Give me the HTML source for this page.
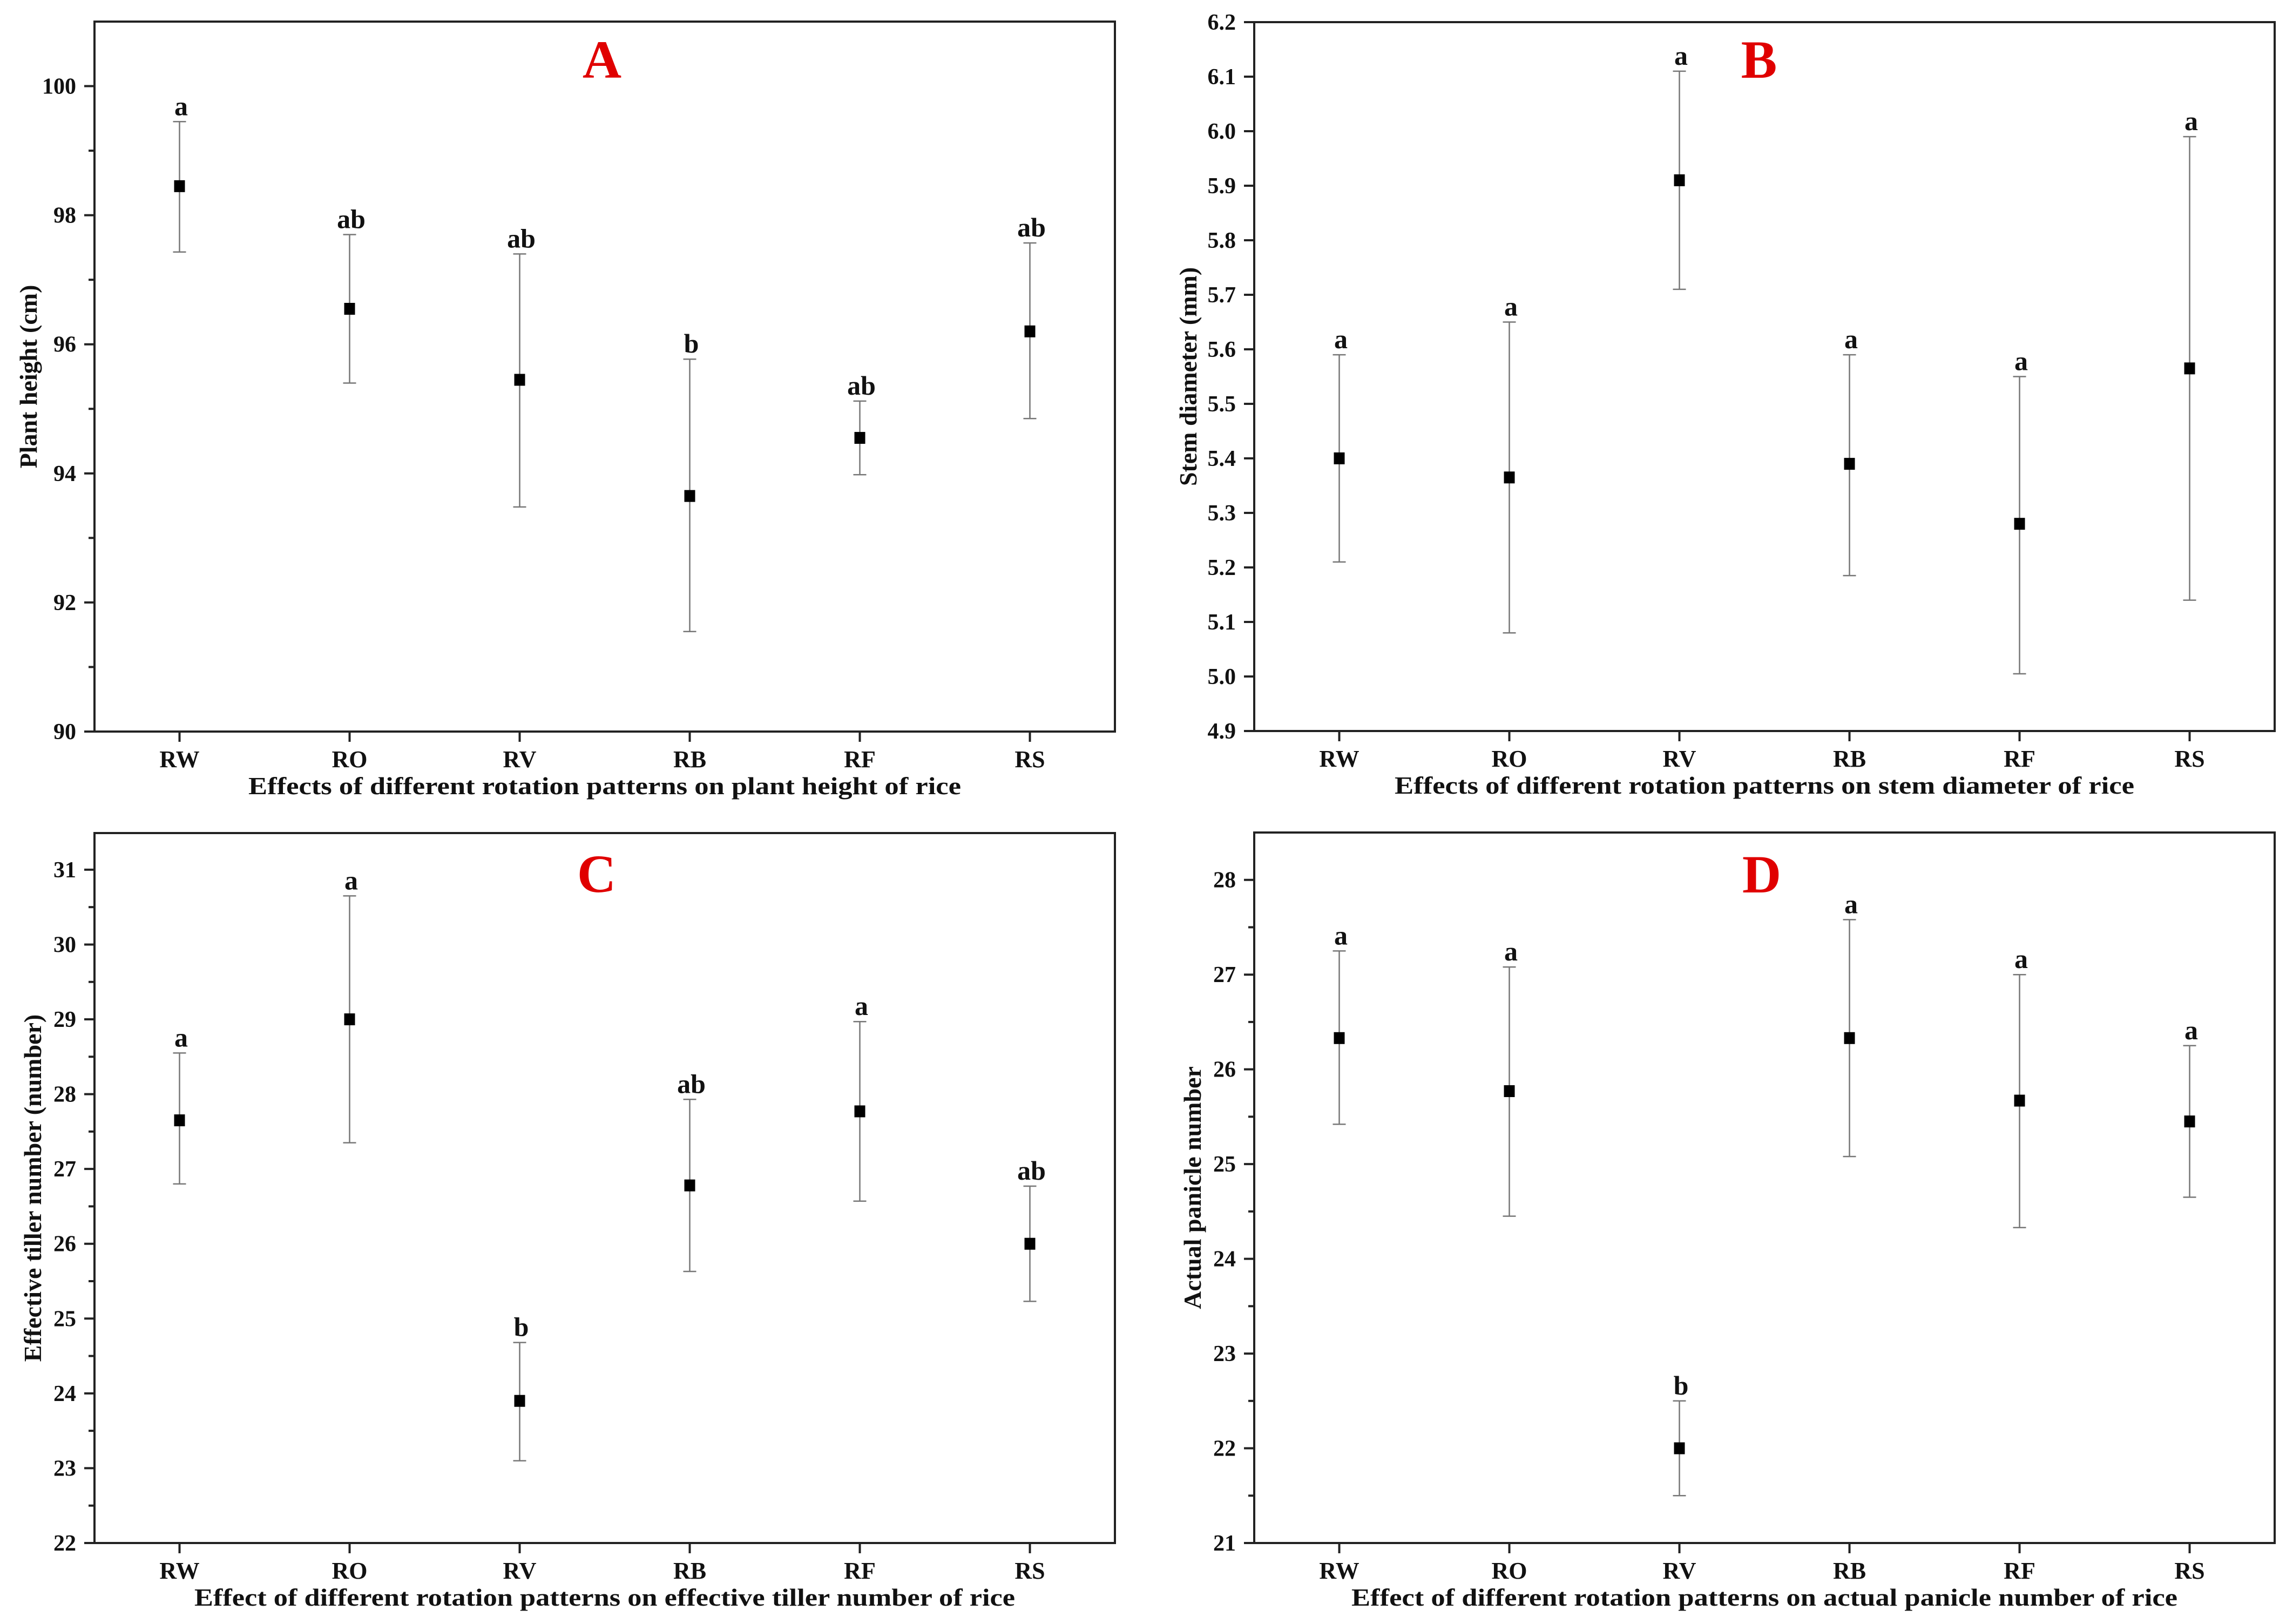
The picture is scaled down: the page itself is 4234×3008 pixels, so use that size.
<!DOCTYPE html>
<html><head><meta charset="utf-8">
<style>
html,body{margin:0;padding:0;background:#fff;}
svg{display:block;}
text{font-family:"Liberation Serif",serif;font-weight:bold;fill:#111;}
</style></head>
<body>
<svg id="fig" width="4234" height="3008" viewBox="0 0 4234 3008" xmlns="http://www.w3.org/2000/svg"></svg>
<script>
const categories = ["RW","RO","RV","RB","RF","RS"];
// Panel A: plant height
const meanA = [98.45, 96.55, 95.45, 93.65, 94.55, 96.2];
const lowA  = [97.43, 95.4, 93.48, 91.55, 93.98, 94.85];
const highA = [99.45, 97.7, 97.4, 95.77, 95.12, 97.57];
const letA  = ["a","ab","ab","b","ab","ab"];
const ticksA = [90,92,94,96,98,100];
// Panel B: stem diameter
const meanB = [5.40, 5.365, 5.91, 5.39, 5.28, 5.565];
const lowB  = [5.21, 5.08, 5.71, 5.185, 5.005, 5.14];
const highB = [5.59, 5.65, 6.11, 5.59, 5.55, 5.99];
const letB  = ["a","a","a","a","a","a"];
const ticksB = ["4.9","5.0","5.1","5.2","5.3","5.4","5.5","5.6","5.7","5.8","5.9","6.0","6.1","6.2"];
// Panel C: effective tiller number
const meanC = [27.65, 29.0, 23.9, 26.78, 27.77, 26.0];
const lowC  = [26.8, 27.35, 23.1, 25.63, 26.57, 25.23];
const highC = [28.55, 30.65, 24.68, 27.93, 28.97, 26.77];
const letC  = ["a","a","b","ab","a","ab"];
const ticksC = [22,23,24,25,26,27,28,29,30,31];
// Panel D: actual panicle number
const meanD = [26.33, 25.77, 22.0, 26.33, 25.67, 25.45];
const lowD  = [25.42, 24.45, 21.5, 25.08, 24.33, 24.65];
const highD = [27.25, 27.08, 22.5, 27.58, 27.0, 26.25];
const letD  = ["a","a","b","a","a","a"];
const ticksD = [21,22,23,24,25,26,27,28];

const NS="http://www.w3.org/2000/svg";
const svg=document.getElementById('fig');
function el(tag,attrs,parent){const e=document.createElementNS(NS,tag);for(const k in attrs)e.setAttribute(k,attrs[k]);(parent||svg).appendChild(e);return e;}

const panels=[
 {id:"a",L:175,R:2065,T:40,B:1355,ymin:90,ymax:101,mean:meanA,low:lowA,high:highA,let:letA,ticks:ticksA,minor:1,
  letter:"A",lx:1115,ly:144,ytitle:"Plant height (cm)",ytx:52,xtitle:"Effects of different rotation patterns on plant height of rice",xtw:1320},
 {id:"b",L:2323,R:4213,T:41,B:1354,ymin:4.9,ymax:6.2,mean:meanB,low:lowB,high:highB,let:letB,ticks:ticksB,minor:0,
  letter:"B",lx:3258,ly:144,ytitle:"Stem diameter (mm)",ytx:2200,xtitle:"Effects of different rotation patterns on stem diameter of rice",xtw:1370},
 {id:"c",L:175,R:2065,T:1543,B:2858,ymin:22,ymax:31.49,mean:meanC,low:lowC,high:highC,let:letC,ticks:ticksC,minor:0.5,
  letter:"C",lx:1105,ly:1652,ytitle:"Effective tiller number (number)",ytx:60,xtitle:"Effect of different rotation patterns on effective tiller number of rice",xtw:1520},
 {id:"d",L:2323,R:4213,T:1542,B:2858,ymin:21,ymax:28.5,mean:meanD,low:lowD,high:highD,let:letD,ticks:ticksD,minor:0.5,
  letter:"D",lx:3263,ly:1653,ytitle:"Actual panicle number",ytx:2208,xtitle:"Effect of different rotation patterns on actual panicle number of rice",xtw:1530}
];

panels.forEach(p=>{
  const g=el('g',{});
  
  
  const x=i=>p.L+(i+0.5)*(p.R-p.L)/categories.length;
  const y=v=>p.B-(v-p.ymin)/(p.ymax-p.ymin)*(p.B-p.T);
  const fr=el('rect',{x:p.L,y:p.T,width:p.R-p.L,height:p.B-p.T,fill:'none',stroke:'#222','stroke-width':4},g);
  
  
  // y ticks
  p.ticks.forEach(t=>{
    const v=parseFloat(t);
    el('line',{x1:p.L-19,x2:p.L,y1:y(v),y2:y(v),stroke:'#222','stroke-width':4},g);
    const tl=el('text',{x:p.L-34,y:y(v)+14,'text-anchor':'end','font-size':42},g);
    tl.textContent=t;
    
    
  });
  if(p.minor){
    for(let v=p.ymin+p.minor; v<p.ymax; v+=p.minor*2){
      el('line',{x1:p.L-11,x2:p.L,y1:y(v),y2:y(v),stroke:'#222','stroke-width':4},g);
    }
  }
  // x ticks
  categories.forEach((c,i)=>{
    el('line',{x1:x(i),x2:x(i),y1:p.B,y2:p.B+19,stroke:'#222','stroke-width':4},g);
    const tl=el('text',{x:x(i),y:p.B+66,'text-anchor':'middle','font-size':44},g);
    tl.textContent=c;
    
    
  });
  // error bars + markers + letters
  categories.forEach((c,i)=>{
    const eb=el('g',{},g);
    
    
    el('line',{x1:x(i),x2:x(i),y1:y(p.high[i]),y2:y(p.low[i]),stroke:'#777','stroke-width':2.5},eb);
    el('line',{x1:x(i)-12,x2:x(i)+12,y1:y(p.high[i]),y2:y(p.high[i]),stroke:'#777','stroke-width':2.5},eb);
    el('line',{x1:x(i)-12,x2:x(i)+12,y1:y(p.low[i]),y2:y(p.low[i]),stroke:'#777','stroke-width':2.5},eb);
    const m=el('rect',{x:x(i)-10,y:y(p.mean[i])-11,width:20,height:22,fill:'#000'},g);
    
    
    const lt=el('text',{x:x(i)+3,y:y(p.high[i])-12,'text-anchor':'middle','font-size':50},g);
    lt.textContent=p.let[i];
    
    
  });
  const pl=el('text',{x:p.lx,y:p.ly,'text-anchor':'middle','font-size':100,style:'fill:#e00000'},g);
  pl.textContent=p.letter;
  
  
  const cy=(p.T+p.B)/2;
  const yt=el('text',{x:p.ytx,y:cy,'text-anchor':'middle','font-size':46,transform:`rotate(-90 ${p.ytx} ${cy})`,dy:16},g);
  yt.textContent=p.ytitle;
  
  
  const xt=el('text',{x:(p.L+p.R)/2,y:p.B+116,'text-anchor':'middle','font-size':46,textLength:p.xtw,lengthAdjust:'spacingAndGlyphs'},g);
  xt.textContent=p.xtitle;
  
  
});
</script>
</body></html>
